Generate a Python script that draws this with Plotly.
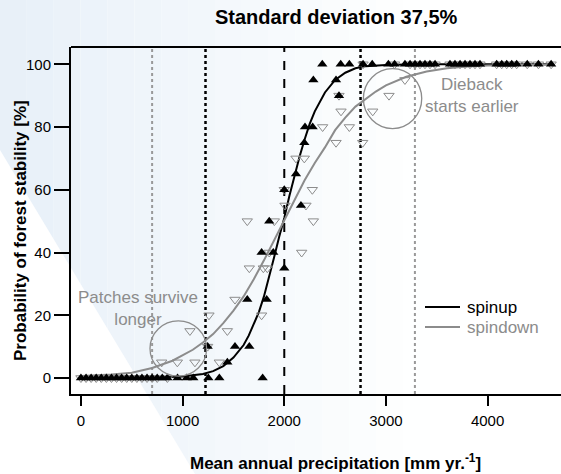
import plotly.graph_objects as go

# ---------------- data ----------------
spinup_x = [0, 50, 100, 150, 200, 250, 300, 350, 400, 450, 500, 550, 600, 650, 700, 750, 800, 850,
            950, 1040, 1105, 1253, 1361, 1787,
            1246, 1440, 1515, 1656, 1636, 1827, 1777, 1892, 1852, 2000, 2000, 2164, 2115, 2197,
            2204, 2279, 2286, 2509, 2538,
            2374, 2555, 2640, 2775, 2865, 3024, 3085, 3187, 3237, 3286, 3335, 3384, 3433, 3483,
            3630, 3679, 3729, 3778, 3827, 3876, 3925, 4089, 4139, 4188, 4237, 4286, 4390, 4500, 4625]
spinup_y = [0] * 18 + [0, 0, 0, 0, 0, 0,
            10, 5, 10, 10, 25, 25, 40, 40, 50, 35, 60, 55, 65, 75,
            80, 80, 95, 95, 90] + [100] * 29

spindown_x = [0, 50, 100, 150, 200, 250, 300, 350, 400, 450, 500, 550, 600, 650, 700, 750, 850,
              794, 948, 1121, 1361, 1072, 1440, 1259, 1246, 1777, 1515, 1656, 1794, 1833, 1852,
              2171, 1636, 1902, 2286, 2007, 2213, 2000, 2276, 2115, 2197, 2509, 2771, 2377, 2640,
              2558, 2870, 2538, 3030, 3187,
              2775, 3085, 3237, 3286, 3335, 3384, 3433, 3483, 3630, 3679, 3729, 3778, 3827, 3876,
              3925, 4089, 4139, 4188, 4237, 4286, 4390, 4500, 4625]
spindown_y = [0] * 17 + [5, 5, 5, 5, 15, 15, 20, 10, 20, 25, 35, 35, 35, 40,
              40, 50, 50, 50, 55, 55, 60, 60, 70, 70, 75, 75, 80, 80,
              85, 85, 90, 90, 95] + [100] * 23

curve_x_up = [0, 500, 800, 1000, 1200, 1300, 1400, 1500, 1600, 1650, 1700, 1750, 1800, 1850, 1900,
              1950, 2000, 2050, 2100, 2150, 2200, 2250, 2300, 2400, 2500, 2600, 2700, 2800, 3000,
              3300, 3700, 4650]
curve_y_up = [0, 0, 0.2, 0.5, 1.3, 2.2, 3.8, 6.5, 10.5, 13.5, 17, 21, 26, 32, 38.5,
              45, 51, 58, 64.5, 70.5, 76, 81, 85, 91, 95, 97.3, 98.7, 99.4, 99.8,
              100, 100, 100]

curve_x_down = [0, 300, 500, 700, 900, 1100, 1200, 1300, 1400, 1500, 1600, 1700, 1800, 1900, 2000,
                2100, 2200, 2300, 2400, 2500, 2600, 2700, 2800, 2900, 3000, 3200, 3400, 3600, 3800,
                4000, 4650]
curve_y_down = [0.6, 1.1, 1.7, 3.2, 5.5, 9, 11.3, 14, 17.5, 21.5, 26, 31.5, 37.5, 44, 50.5,
                57, 63, 68.5, 73.5, 79, 83, 86.5, 89, 91.3, 93.3, 96, 97.7, 98.7, 99.3,
                99.6, 99.9]

vline_gray = [700, 3285]
vline_black_dot = [1225, 2750]
vline_dash = [2000]

x_ticks = [0, 1000, 2000, 3000, 4000]
y_ticks = [0, 20, 40, 60, 80, 100]

legend_names = ["spinup", "spindown"]
legend_colors = ["black", "#8c8c8c"]

# ---------------- figure ----------------
W, H = 561, 474
ML, MR, MT, MB = 71, 0, 47, 80
PW, PH = W - ML - MR, H - MT - MB
FONT = "Liberation Sans, Arial, sans-serif"
GRAY = "#8c8c8c"


def px2paper_x(px):
    return (px - ML) / PW


def px2paper_y(py):
    return (H - MB - py) / PH


fig = go.Figure()

fig.add_trace(go.Scatter(x=curve_x_up, y=curve_y_up, mode="lines", name=legend_names[0],
                         showlegend=False, line=dict(color="black", width=2)))
fig.add_trace(go.Scatter(x=curve_x_down, y=curve_y_down, mode="lines", name=legend_names[1],
                         showlegend=False, line=dict(color=GRAY, width=2)))
fig.add_trace(go.Scatter(x=spindown_x, y=spindown_y, mode="markers", showlegend=False,
                         marker=dict(symbol="triangle-down-open", size=9, color=GRAY,
                                     line=dict(width=1, color=GRAY))))
fig.add_trace(go.Scatter(x=spinup_x, y=spinup_y, mode="markers", showlegend=False,
                         marker=dict(symbol="triangle-up", size=9, color="black",
                                     line=dict(width=0))))

shapes = []
# background gradient (decoration)
n = 16
x_end = 430
for i in range(n):
    a = i / n
    b = (i + 1) / n
    t = (a + b) / 2
    r = int(round(231 + (255 - 231) * t))
    g = int(round(240 + (255 - 240) * t))
    bl = int(round(248 + (255 - 248) * t))
    shapes.append(dict(type="rect", xref="paper", yref="paper",
                       x0=px2paper_x(a * x_end), x1=px2paper_x(b * x_end),
                       y0=px2paper_y(H), y1=px2paper_y(0),
                       fillcolor=f"rgb({r},{g},{bl})", line=dict(width=0), layer="below"))
# white wedge lower-left
shapes.append(dict(type="path", xref="paper", yref="paper",
                   path=f"M {px2paper_x(0)} {px2paper_y(150)} L {px2paper_x(195)} {px2paper_y(H)} "
                        f"L {px2paper_x(0)} {px2paper_y(H)} Z",
                   fillcolor="white", line=dict(width=0), layer="below"))

for xv in vline_gray:
    shapes.append(dict(type="line", xref="x", yref="paper", x0=xv, x1=xv, y0=0, y1=1,
                       line=dict(color="#999999", width=2, dash="dot"), layer="below"))
for xv in vline_black_dot:
    shapes.append(dict(type="line", xref="x", yref="paper", x0=xv, x1=xv, y0=0, y1=1,
                       line=dict(color="black", width=2.5, dash="dot"), layer="below"))
for xv in vline_dash:
    shapes.append(dict(type="line", xref="x", yref="paper", x0=xv, x1=xv, y0=0, y1=1,
                       line=dict(color="black", width=2, dash="dash"), layer="below"))

# circles
shapes.append(dict(type="circle", xref="x", yref="y", x0=679, x1=1236, y0=0.6, y1=18.2,
                   line=dict(color=GRAY, width=1.3)))
shapes.append(dict(type="circle", xref="x", yref="y", x0=2778, x1=3352, y0=79.5, y1=98.6,
                   line=dict(color=GRAY, width=1.3)))
# top frame line
shapes.append(dict(type="line", xref="paper", yref="paper", x0=0, x1=1, y0=1, y1=1,
                   line=dict(color="black", width=2)))

annotations = [
    dict(text="<b>Standard deviation 37,5%</b>", xref="paper", yref="paper",
         x=px2paper_x(336), y=px2paper_y(17), showarrow=False,
         font=dict(size=20, color="black", family=FONT), xanchor="center", yanchor="middle"),
    dict(text="<b>Mean annual precipitation [mm yr.<sup>-1</sup>]</b>", xref="paper", yref="paper",
         x=px2paper_x(335), y=px2paper_y(462), showarrow=False,
         font=dict(size=17, color="black", family=FONT), xanchor="center", yanchor="middle"),
    dict(text="<b>Probability of forest stability [%]</b>", xref="paper", yref="paper",
         x=px2paper_x(20), y=px2paper_y(231), showarrow=False, textangle=-90,
         font=dict(size=17, color="black", family=FONT), xanchor="center", yanchor="middle"),
    dict(text="Patches survive<br>longer", xref="x", yref="y", x=561, y=22.1, showarrow=False,
         font=dict(size=17, color=GRAY, family=FONT), align="center",
         xanchor="center", yanchor="middle"),
    dict(text="Dieback<br>starts earlier", xref="x", yref="y", x=3847, y=89.9, showarrow=False,
         font=dict(size=17, color=GRAY, family=FONT), align="center",
         xanchor="center", yanchor="middle"),
]

# manual legend (key lines + labels)
leg_py = [307, 327]
for name, col, py in zip(legend_names, legend_colors, leg_py):
    shapes.append(dict(type="line", xref="paper", yref="paper",
                       x0=px2paper_x(425), x1=px2paper_x(460),
                       y0=px2paper_y(py), y1=px2paper_y(py),
                       line=dict(color=col, width=2)))
    annotations.append(dict(text=name, xref="paper", yref="paper",
                            x=px2paper_x(465), y=px2paper_y(py), showarrow=False,
                            xanchor="left", yanchor="middle",
                            font=dict(size=17, color=col, family=FONT)))

fig.update_layout(
    width=W, height=H,
    margin=dict(l=ML, r=MR, t=MT, b=MB, pad=0),
    paper_bgcolor="white", plot_bgcolor="rgba(0,0,0,0)",
    font=dict(family=FONT, size=15, color="black"),
    shapes=shapes, annotations=annotations,
    showlegend=False,
    xaxis=dict(range=[-98, 4722], tickvals=x_ticks, ticktext=[str(v) for v in x_ticks],
               showgrid=False, zeroline=False, showline=True, linecolor="black", linewidth=2,
               ticks="outside", ticklen=10, tickwidth=1.5, tickcolor="black",
               ticklabelstandoff=2, tickfont=dict(size=15)),
    yaxis=dict(range=[-5.1, 105.5], tickvals=y_ticks, ticktext=[str(v) for v in y_ticks],
               showgrid=False, zeroline=False, showline=True, linecolor="black", linewidth=2,
               ticks="outside", ticklen=15, tickwidth=1.5, tickcolor="black",
               ticklabelstandoff=0, tickfont=dict(size=15)),
)

fig.write_html("out.html", config={"displayModeBar": False},
               post_script="document.body.style.margin='0px';document.body.style.overflow='hidden';")
